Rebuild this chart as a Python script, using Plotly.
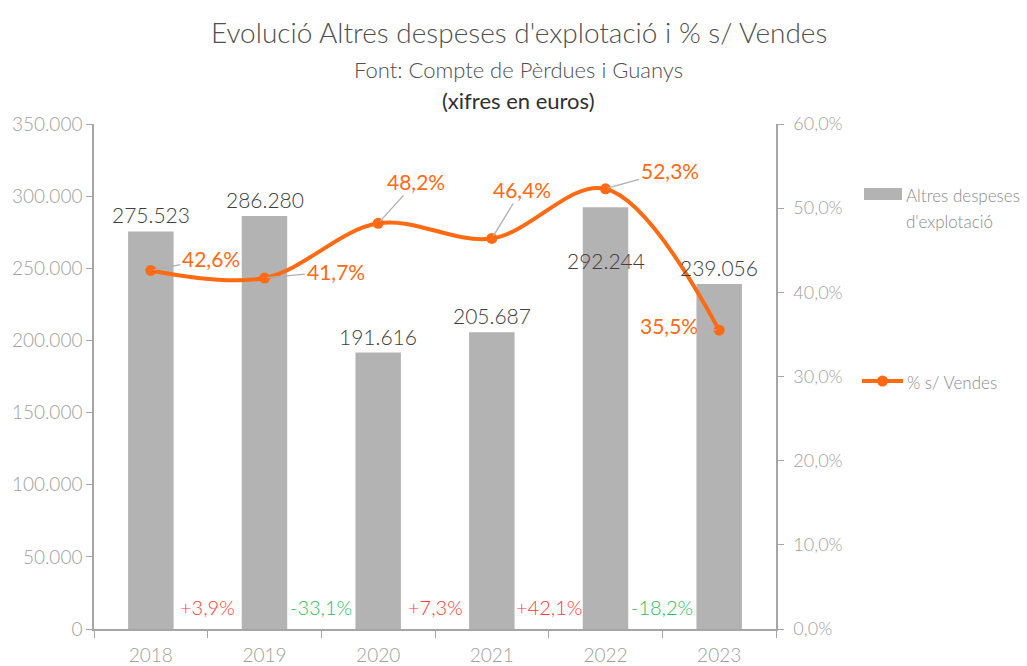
import plotly.graph_objects as go

years = ["2018", "2019", "2020", "2021", "2022", "2023"]
expenses = [275523, 286280, 191616, 205687, 292244, 239056]
pct_sales = [42.6, 41.7, 48.2, 46.4, 52.3, 35.5]

left_ticks = [0, 50000, 100000, 150000, 200000, 250000, 300000, 350000]
right_ticks = [0, 10, 20, 30, 40, 50, 60]

legend_bar_label = ["Altres despeses", "d'explotació"]
legend_line_label = "% s/ Vendes"

# styling / placement (not data)
bar_label_shift = [0, 0, 0, 0, -70, 0]
pct_label_offsets = [(60, -12), (71, -7), (38, -42), (30, -49), (64, -18), (-50, -5)]

FONT = "Lato"
ORANGE = "#FF6A13"
BAR = "#B3B3B3"
TICK = "#A0A0A0"
AXIS = "#A6A6A6"
LEG = "#8C8C8C"

W, H = 1027, 666
L, R, T, B = 94, 251, 124, 37
PW, PH = W - L - R, H - T - B


def px(x):
    return (x - L) / PW


def py(y):
    return (H - B - y) / PH


def fmt_int(v):
    return f"{v:,.0f}".replace(",", ".")


def fmt_pct(v):
    return f"{v:.1f}".replace(".", ",") + "%"


fig = go.Figure()
fig.add_trace(go.Bar(
    x=years, y=expenses, name="Altres despeses d'explotació",
    marker=dict(color=BAR, line=dict(width=0)), width=0.4, hoverinfo="skip",
))
fig.add_trace(go.Scatter(
    x=years, y=pct_sales, name=legend_line_label, yaxis="y2",
    mode="lines+markers", line=dict(color=ORANGE, width=4, shape="spline", smoothing=1.0),
    marker=dict(color=ORANGE, size=11), hoverinfo="skip",
))

ann = []
for i, v in enumerate(expenses):
    ann.append(dict(x=i, y=v, xref="x", yref="y", text=fmt_int(v), showarrow=False,
                    yanchor="bottom", yshift=2 + bar_label_shift[i],
                    font=dict(family=FONT, size=21, color="#404040", weight=300)))

for i, p in enumerate(pct_sales):
    ax, ay = pct_label_offsets[i]
    ann.append(dict(x=i, y=p, xref="x", yref="y2", text=fmt_pct(p), showarrow=True,
                    arrowhead=0, arrowwidth=1.3, arrowcolor="#B0B0B0", ax=ax, ay=ay,
                    standoff=3,
                    font=dict(family=FONT, size=21, color=ORANGE, weight=400)))

for i in range(1, len(expenses)):
    ch = (expenses[i] / expenses[i - 1] - 1) * 100
    txt = ("+" if ch >= 0 else "-") + f"{abs(ch):.1f}".replace(".", ",") + "%"
    col = "#FF3B3B" if ch >= 0 else "#2DBE64"
    ann.append(dict(x=i - 0.5, y=0, xref="x", yref="paper", text=txt, showarrow=False,
                    yanchor="bottom", yshift=8,
                    font=dict(family=FONT, size=20, color=col, weight=300)))

ann.append(dict(x=px(519), y=py(32), xref="paper", yref="paper", showarrow=False,
                yanchor="middle", text="Evolució Altres despeses d'explotació i % s/ Vendes",
                font=dict(family=FONT, size=28, color="#505050", weight=300)))
ann.append(dict(x=px(518), y=py(70), xref="paper", yref="paper", showarrow=False,
                yanchor="middle", text="Font: Compte de Pèrdues i Guanys",
                font=dict(family=FONT, size=22, color="#505050", weight=300)))
ann.append(dict(x=px(518), y=py(101), xref="paper", yref="paper", showarrow=False,
                yanchor="middle", text="(xifres en euros)",
                font=dict(family=FONT, size=22, color="#303030", weight=400)))

# custom legend
ann.append(dict(x=px(904), y=py(195), xref="paper", yref="paper", showarrow=False,
                xanchor="left", yanchor="middle", text=legend_bar_label[0],
                font=dict(family=FONT, size=17, color=LEG, weight=300)))
ann.append(dict(x=px(904), y=py(222), xref="paper", yref="paper", showarrow=False,
                xanchor="left", yanchor="middle", text=legend_bar_label[1],
                font=dict(family=FONT, size=17, color=LEG, weight=300)))
ann.append(dict(x=px(905), y=py(382), xref="paper", yref="paper", showarrow=False,
                xanchor="left", yanchor="middle", text=legend_line_label,
                font=dict(family=FONT, size=17, color=LEG, weight=300)))

shapes = [
    dict(type="rect", xref="paper", yref="paper", x0=px(864), x1=px(902), y0=py(200), y1=py(188),
         fillcolor=BAR, line=dict(width=0)),
    dict(type="line", xref="paper", yref="paper", x0=px(862), x1=px(903), y0=py(381), y1=py(381),
         line=dict(color=ORANGE, width=4)),
    dict(type="circle", xref="paper", yref="paper", x0=px(877), x1=px(888), y0=py(386.5), y1=py(375.5),
         fillcolor=ORANGE, line=dict(width=0)),
]

fig.update_layout(
    width=W, height=H,
    margin=dict(l=L, r=R, t=T, b=B, pad=0),
    paper_bgcolor="white", plot_bgcolor="white",
    font=dict(family=FONT, color=TICK),
    showlegend=False,
    xaxis=dict(type="category", range=[-0.5, 5.5], showline=True, linecolor=AXIS, linewidth=1.5,
               ticks="outside", tickson="boundaries", ticklen=7, tickcolor=AXIS,
               tickfont=dict(family=FONT, size=19, color=TICK, weight=300),
               showgrid=False, zeroline=False, automargin=False, ticklabelstandoff=8),
    yaxis=dict(range=[0, 350000], tickvals=left_ticks,
               ticktext=[fmt_int(v) for v in left_ticks],
               showline=True, linecolor=AXIS, linewidth=1.5, ticks="outside", ticklen=6,
               tickcolor=AXIS, tickfont=dict(family=FONT, size=19, color=TICK, weight=300),
               showgrid=False, zeroline=False, ticklabelstandoff=0, automargin=False),
    yaxis2=dict(range=[0, 60], tickvals=right_ticks,
                ticktext=[fmt_pct(v) for v in right_ticks],
                overlaying="y", side="right", showline=True, linecolor=AXIS, linewidth=1.5,
                ticks="outside", ticklen=6, tickcolor=AXIS,
                tickfont=dict(family=FONT, size=18, color=TICK, weight=300),
                showgrid=False, zeroline=False, ticklabelstandoff=6, automargin=False),
    annotations=ann,
    shapes=shapes,
)

fig.write_html("out.html", config={"displayModeBar": False},
               post_script="document.body.style.margin='0';")
